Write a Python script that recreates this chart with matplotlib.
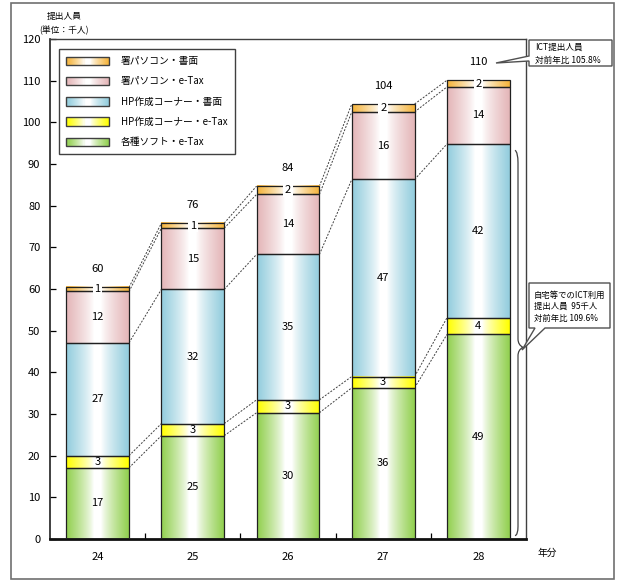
import numpy as np
import matplotlib
matplotlib.use('Agg')
import matplotlib.pyplot as plt
from matplotlib.patches import Rectangle, Polygon
from matplotlib.path import Path
from matplotlib.patches import PathPatch
from matplotlib.legend_handler import HandlerBase
from matplotlib.colors import to_rgb

plt.rcParams['font.family'] = ['Noto Sans CJK JP', 'DejaVu Sans']

# ---------------- data ----------------
years = ['24', '25', '26', '27', '28']
series_names = ['各種ソフト・e-Tax', 'HP作成コーナー・e-Tax', 'HP作成コーナー・書面',
                '署パソコン・e-Tax', '署パソコン・書面']
soft_etax = [17.1, 24.8, 30.3, 36.3, 49.1]
hp_etax = [2.9, 2.9, 3.1, 2.7, 4.0]
hp_paper = [27.1, 32.2, 34.9, 47.3, 41.7]
office_etax = [12.3, 14.7, 14.4, 16.2, 13.7]
office_paper = [1.0, 1.2, 2.0, 1.9, 1.6]
# labels as printed
soft_etax_lbl = [17, 25, 30, 36, 49]
hp_etax_lbl = [3, 3, 3, 3, 4]
hp_paper_lbl = [27, 32, 35, 47, 42]
office_etax_lbl = [12, 15, 14, 16, 14]
office_paper_lbl = [1, 1, 2, 2, 2]
total_lbl = [60, 76, 84, 104, 110]
colors = ['#92D050', '#FFFF00', '#93CDDD', '#E4B6B8', '#F5B43C']

series = [soft_etax, hp_etax, hp_paper, office_etax, office_paper]
labels = [soft_etax_lbl, hp_etax_lbl, hp_paper_lbl, office_etax_lbl, office_paper_lbl]

W, H = 628, 584
fig = plt.figure(figsize=(W / 100, H / 100), dpi=100)


def fx(x):
    return x / W


def fy(y):
    return 1 - y / H


def grad_rgb(color, n=64):
    t = np.linspace(0, 1, n)
    w = np.clip((np.abs(2 * t - 1) - 0.12) / 0.88, 0, 1) ** 0.8
    c = np.array(to_rgb(color))
    return (1 - w)[:, None] * np.ones(3) + w[:, None] * c


ax = fig.add_axes([fx(50), 1 - 539 / H, 476 / W, 500 / H])
x = np.arange(len(years))
bw = 0.66
bottom = np.zeros(len(years))
cums = [bottom.copy()]
for vals, col in zip(series, colors):
    bars = ax.bar(x, vals, bw, bottom=bottom, facecolor='none',
                  edgecolor='#202020', linewidth=0.9, zorder=3)
    g = grad_rgb(col)[None, :, :]
    for r in bars:
        x0, y0 = r.get_x(), r.get_y()
        ax.imshow(g, extent=(x0, x0 + r.get_width(), y0, y0 + r.get_height()),
                  aspect='auto', interpolation='bilinear', zorder=2)
    bottom = bottom + np.array(vals)
    cums.append(bottom.copy())

# segment labels
for k, (vals, lbls) in enumerate(zip(series, labels)):
    for i in range(len(years)):
        yc = cums[k][i] + vals[i] / 2
        if k == 4:
            ax.text(x[i], yc, str(lbls[i]), ha='center', va='center', fontsize=8,
                    zorder=5, bbox=dict(facecolor='white', edgecolor='none', pad=1.2))
        else:
            ax.text(x[i], yc, str(lbls[i]), ha='center', va='center', fontsize=8, zorder=5)

# totals
for i in range(len(years)):
    ax.text(x[i], cums[-1][i] + 4.3, str(total_lbl[i]), ha='center', va='center',
            fontsize=8, zorder=5)

# dashed connectors
for i in range(len(years) - 1):
    for k in range(1, 6):
        ax.plot([x[i] + bw / 2, x[i + 1] - bw / 2], [cums[k][i], cums[k][i + 1]],
                color='#404040', lw=0.7, ls=(0, (2, 1.5)), zorder=1)

# brace on the last bar (lower three segments)
bx = x[-1] + bw / 2
top_b = cums[3][-1] - 1.5
mid_b = 46
verts = [(bx + 0.055, top_b), (bx + 0.086, top_b - 0.5), (bx + 0.086, top_b - 3),
         (bx + 0.086, mid_b + 2), (bx + 0.086, mid_b + 0.6), (bx + 0.138, mid_b),
         (bx + 0.086, mid_b - 0.6), (bx + 0.086, mid_b - 2),
         (bx + 0.086, 3), (bx + 0.086, 1.0), (bx + 0.055, 0.8)]
codes = [Path.MOVETO, Path.CURVE3, Path.CURVE3, Path.LINETO, Path.CURVE3, Path.CURVE3,
         Path.CURVE3, Path.CURVE3, Path.LINETO, Path.CURVE3, Path.CURVE3]
ax.add_patch(PathPatch(Path(verts, codes), facecolor='none', edgecolor='#404040',
                       lw=0.9, zorder=4, clip_on=False))

ax.set_xlim(-0.5, len(years) - 0.5)
ax.set_ylim(0, 120)
ax.set_yticks(np.arange(0, 121, 10))
ax.set_xticks(x)
ax.set_xticklabels(years)
ax.set_xticks(np.arange(0.5, len(years) - 1, 1), minor=True)
ax.tick_params(axis='y', direction='in', length=4, pad=7, labelsize=8, width=0.9)
ax.tick_params(axis='x', which='major', length=0, pad=9, labelsize=8)
ax.tick_params(axis='x', which='minor', direction='in', length=4, width=0.9)
for s in ['top', 'right']:
    ax.spines[s].set_color('#404040')
    ax.spines[s].set_linewidth(1.0)
ax.spines['left'].set_color('#202020')
ax.spines['left'].set_linewidth(1.2)
ax.spines['bottom'].set_color('#101010')
ax.spines['bottom'].set_linewidth(2.0)


# legend with gradient handles
class GradHandler(HandlerBase):
    def __init__(self, color, **kw):
        super().__init__(**kw)
        self.color = color

    def create_artists(self, legend, orig_handle, xdescent, ydescent, width, height,
                       fontsize, trans):
        g = grad_rgb(self.color, 40)
        n = len(g)
        arts = []
        for i in range(n):
            arts.append(Rectangle((-xdescent + width * i / n, -ydescent), width / n * 1.1,
                                  height, facecolor=g[i], edgecolor='none',
                                  transform=trans))
        arts.append(Rectangle((-xdescent, -ydescent), width, height, facecolor='none',
                              edgecolor='#404040', lw=1.0, transform=trans))
        return arts


handles = [Rectangle((0, 0), 1, 1) for _ in colors]
hmap = {h: GradHandler(c) for h, c in zip(handles, colors)}
order = [4, 3, 2, 1, 0]
leg = ax.legend([handles[i] for i in order], [series_names[i] for i in order],
                handler_map=hmap, loc='upper left', bbox_to_anchor=(0.019, 0.98),
                borderaxespad=0, fontsize=7, handlelength=4.4, handleheight=0.95,
                handletextpad=1.2, labelspacing=1.05, borderpad=0.75,
                fancybox=False, framealpha=1, edgecolor='#404040')
leg.get_frame().set_linewidth(1.0)
leg.set_zorder(6)

# axis titles
fig.text(fx(64), fy(16), '提出人員', ha='center', va='center', fontsize=6.3)
fig.text(fx(64), fy(30), '(単位：千人)', ha='center', va='center', fontsize=6.3)
fig.text(fx(547), fy(553), '年分', ha='center', va='center', fontsize=7)

# callouts
c1 = [(529, 40), (612, 40), (612, 66), (529, 66), (529, 61), (496, 63), (529, 56)]
fig.patches.append(Polygon([(fx(a), fy(b)) for a, b in c1], closed=True,
                           transform=fig.transFigure, facecolor='white',
                           edgecolor='#505050', lw=1.0))
fig.text(fx(535), fy(47), 'ICT提出人員', ha='left', va='center', fontsize=6.2)
fig.text(fx(535), fy(60), '対前年比 105.8%', ha='left', va='center', fontsize=6.2)

c2 = [(529, 283), (610, 283), (610, 328), (545, 328), (522, 350), (535, 328), (529, 328)]
fig.patches.append(Polygon([(fx(a), fy(b)) for a, b in c2], closed=True,
                           transform=fig.transFigure, facecolor='white',
                           edgecolor='#505050', lw=1.0))
fig.text(fx(534), fy(295), '自宅等でのICT利用', ha='left', va='center', fontsize=6.0)
fig.text(fx(534), fy(306.5), '提出人員  95千人', ha='left', va='center', fontsize=6.0)
fig.text(fx(534), fy(318), '対前年比 109.6%', ha='left', va='center', fontsize=6.0)

# outer frame
fig.patches.append(Rectangle((fx(11), fy(579)), fx(614) - fx(11), fy(3) - fy(579),
                             transform=fig.transFigure, facecolor='none',
                             edgecolor='#707070', lw=1.2))

fig.savefig('out.png', dpi=100)
